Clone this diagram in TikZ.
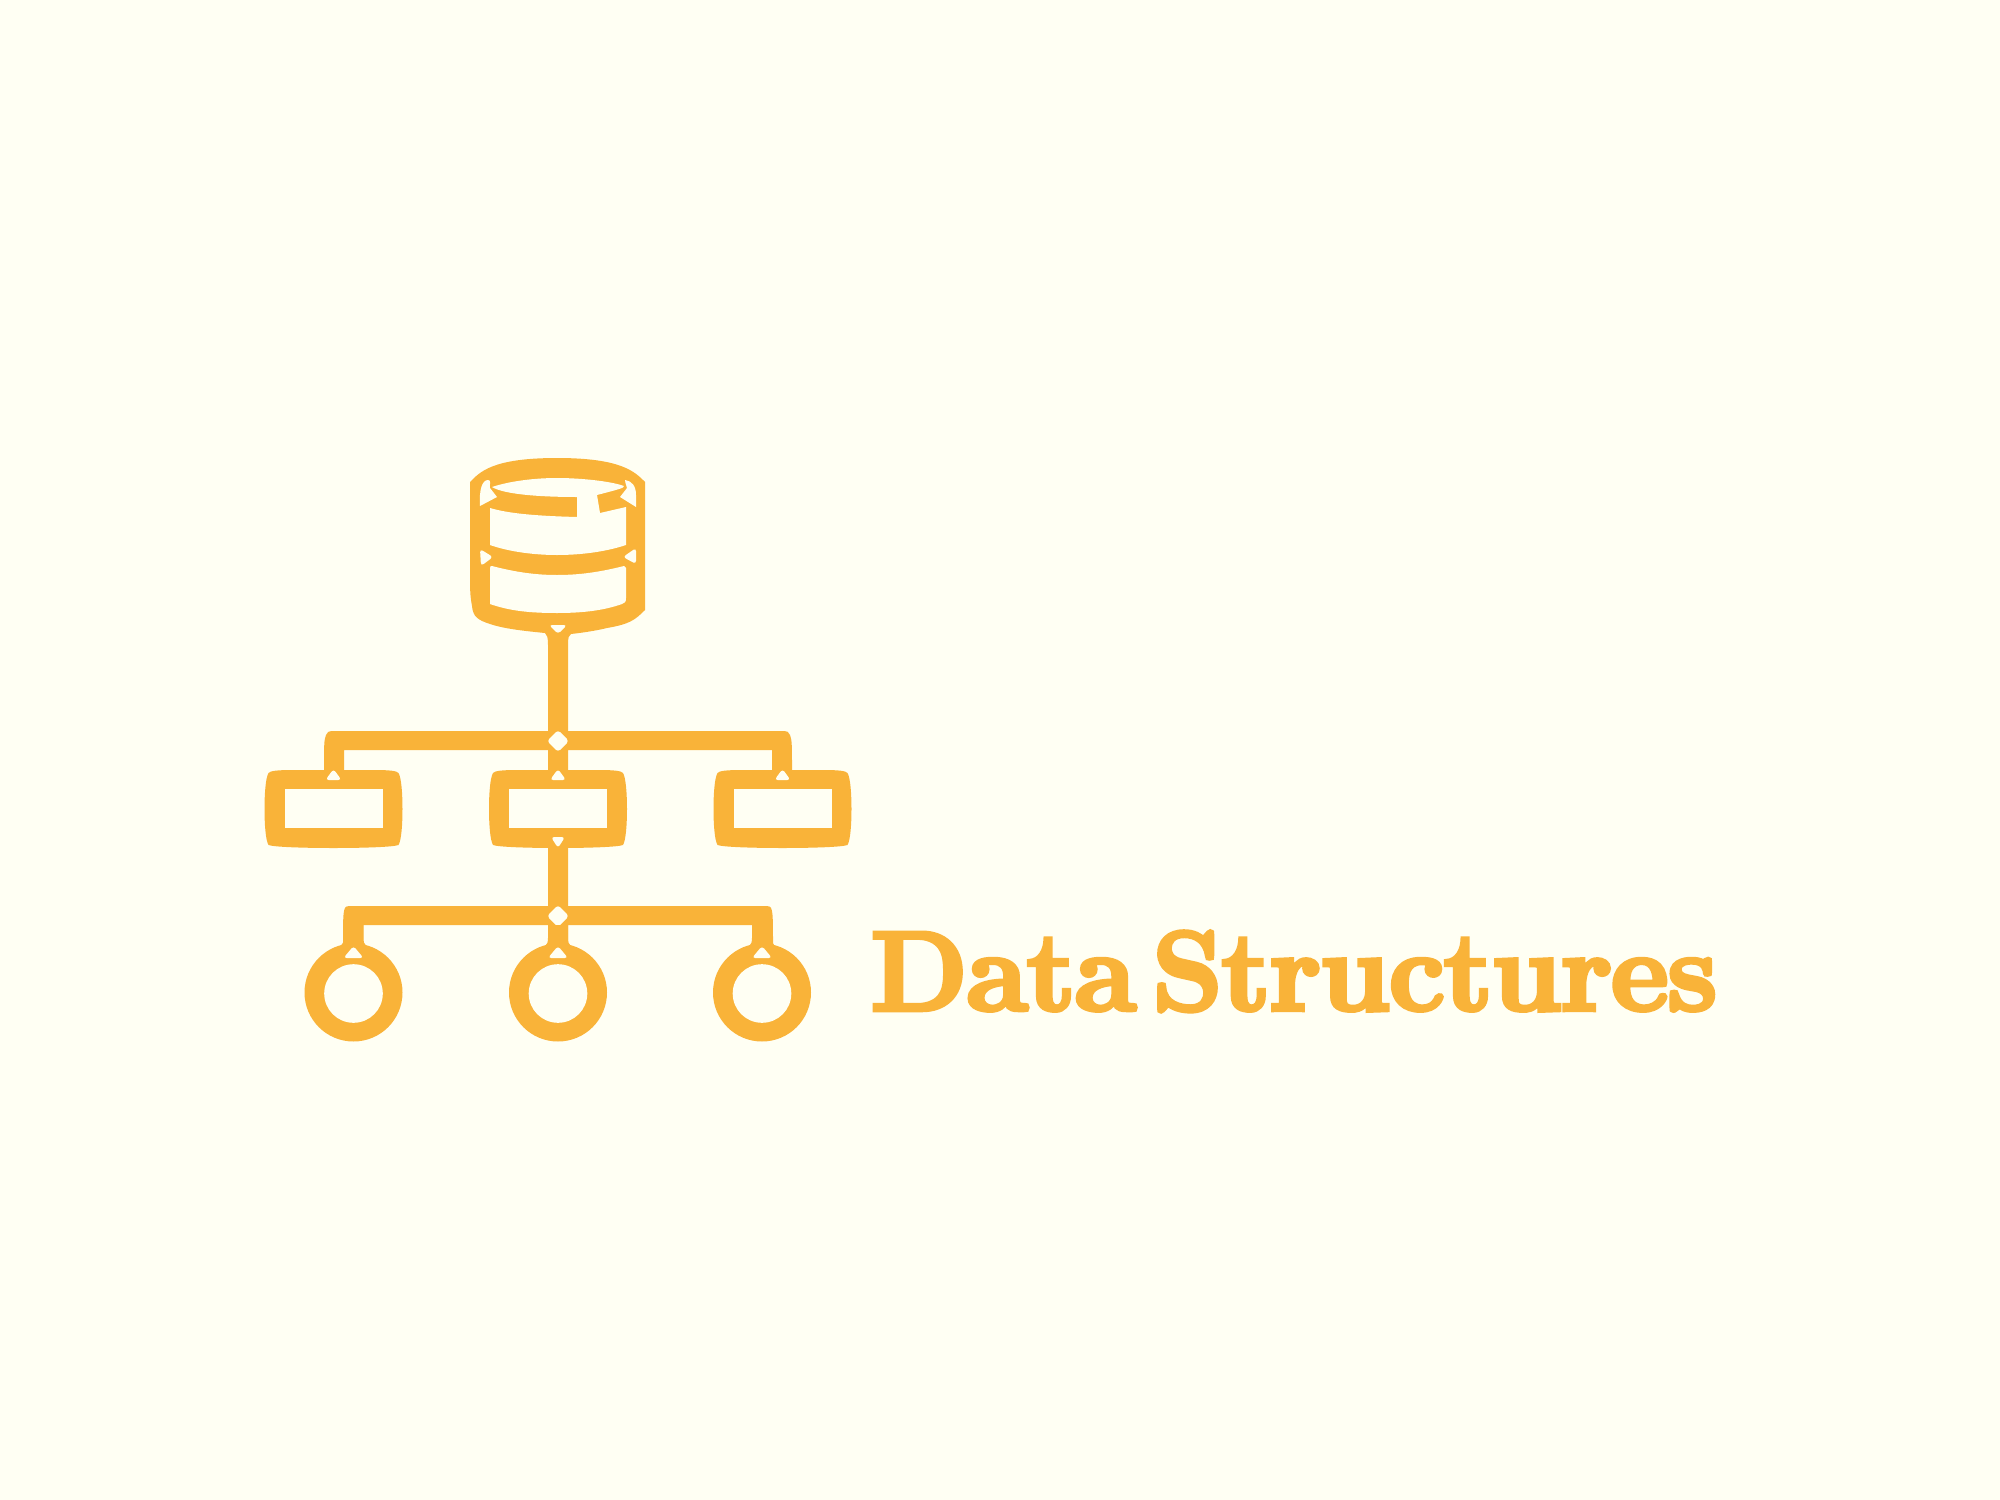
\documentclass[tikz,border=0pt]{standalone}
\usepackage{fontspec}
\usetikzlibrary{positioning}
\newfontfamily\titlefont[BoldFont={Latin Modern Roman/B},BoldFeatures={FakeBold=4,LetterSpace=-1.2,WordSpace=.4}]{Latin Modern Roman}
\definecolor{amber}{HTML}{F9B339}
\definecolor{paper}{HTML}{FFFFF3}
\tikzset{ink/.style={fill=amber,draw=none},gap/.style={fill=paper,draw=none},notch/.style={gap,rounded corners=.9pt}}
\begin{document}
\begin{tikzpicture}[x=.01cm,y=-.01cm]
\useasboundingbox[fill=paper] (0,0) rectangle (2000,1500);
% drum
\fill[ink] (470,482) .. controls (480,472) and (492,458) .. (557,458) .. controls (622,458) and (635,472) .. (645,482)--(645,610) .. controls (635,620) and (630,624) .. (607,628) .. controls (595,631) and (580,633) .. (571,634) .. controls (569,635) and (568,637) .. (568,645)--(568,735)--(548,735)--(548,645) .. controls (548,637) and (547,635) .. (545,633) .. controls (525,631) and (505,629) .. (490,624) .. controls (478,620) and (473,617) .. (472,606) .. controls (470,595) and (470,590) .. (470,570)--cycle;
\fill[gap] (492,487) .. controls (510,481) and (535,478) .. (557,478) .. controls (580,478) and (610,481) .. (624,486) .. controls (624,488) and (620,489) .. (597,495)--(600,513)--(626,507)--(626,545) .. controls (605,552) and (580,555) .. (557,555) .. controls (535,555) and (510,552) .. (490,545)--(490,508) .. controls (510,514) and (540,516) .. (577,517)--(577,497) .. controls (545,497) and (505,495) .. (492,487)--cycle;
\fill[gap] (480,506) .. controls (479,490) and (482,480) .. (488,480) .. controls (492,480) and (489,485) .. (490,488)--(497,497)--cycle;
\fill[gap] (625,480) .. controls (632,481) and (636,486) .. (636,495)--(636,507)--(620,497)--(627,488) .. controls (626,484) and (625,483) .. (625,480)--cycle;
\fill[notch] (480,549)--(493,557)--(481,566)--cycle;
\fill[notch] (636,548)--(623,557)--(636,564)--cycle;
\fill[gap] (490,568) .. controls (490,566) and (491,566) .. (492,566) .. controls (515,572) and (535,575) .. (557,575) .. controls (580,575) and (600,572) .. (624,566)--(626,568)--(626,598) .. controls (626,602) and (625,603) .. (622,604) .. controls (605,610) and (585,613) .. (557,613) .. controls (530,613) and (510,611) .. (490,604)--cycle;
\fill[notch] (549,625)--(567,625)--(558,634)--cycle;
% bars
\fill[ink] (548,731)--(335,731) .. controls (328,731) and (327,732) .. (326,735) .. controls (324,740) and (324,745) .. (324,772)--(344,772)--(344,750)--(548,750)--(548,772)--(568,772)--(568,750)--(772,750)--(772,772)--(792,772) .. controls (792,745) and (792,740) .. (790,735) .. controls (789,732) and (788,731) .. (781,731)--(568,731)--cycle;
\fill[ink] (548,846)--(548,906)--(352,906) .. controls (346,906) and (345,907) .. (345,908) .. controls (343,912) and (343,920) .. (343,950)--(363,950)--(363,925)--(548,925)--(548,950)--(568,950)--(568,925)--(753,925)--(753,950)--(773,950) .. controls (773,920) and (773,912) .. (771,908) .. controls (771,907) and (770,906) .. (764,906)--(568,906)--(568,846)--cycle;
\foreach \ypos in {741,916} \fill[notch] (558,\ypos-11)--(547,\ypos)--(558,\ypos+11)--(569,\ypos)--cycle;
% boxes
\foreach \xpos in {333.5,558,782.5}{
\begin{scope}[shift={(\xpos,0)}]
\fill[ink] (-40,770) .. controls (-58,770) and (-63,771) .. (-65,773) .. controls (-68,778) and (-69,795) .. (-69,809) .. controls (-69,823) and (-68,840) .. (-65,845) .. controls (-60,847) and (-30,848) .. (0,848) .. controls (30,848) and (60,847) .. (65,845) .. controls (68,840) and (69,823) .. (69,809) .. controls (69,795) and (68,778) .. (65,773) .. controls (63,771) and (58,770) .. (40,770)--cycle;
\fill[gap] (-49,789) rectangle (49,828);
\fill[notch] (-8,780)--(0,769)--(8,780)--cycle;
\end{scope}
}
\fill[notch] (551,837)--(565,837)--(558,848)--cycle;
% rings
\foreach \xpos in {353.5,558,762}{
\begin{scope}[shift={(\xpos,0)}]
\fill[ink] (0,992.5) circle (49);
\fill[ink] (-10,925)--(-10,938) .. controls (-10,946) and (-13,947) .. (-22,949)--(22,949) .. controls (13,947) and (10,946) .. (10,938)--(10,925)--cycle;
\fill[gap] (0,993.5) circle (29.3);
\fill[notch] (-10,958)--(0,946)--(10,958)--cycle;
\end{scope}
}
\node[anchor=base west,inner sep=0pt,text=amber,font=\titlefont\bfseries\fontsize{32}{40}\selectfont] (title) at (870,1010) {Data Structures};
\end{tikzpicture}
\end{document}
